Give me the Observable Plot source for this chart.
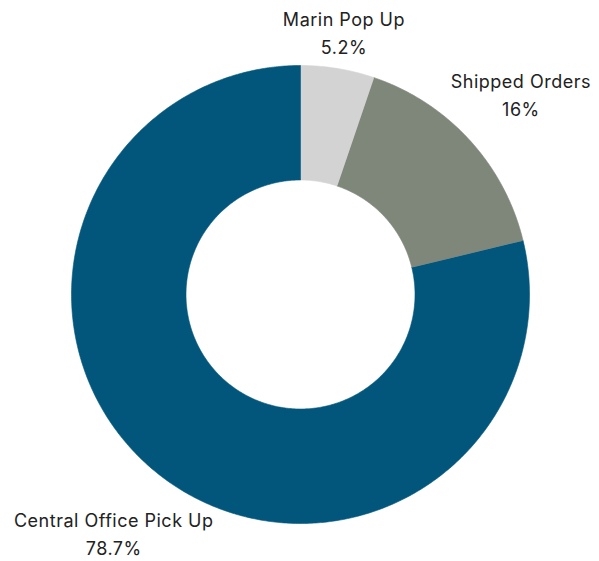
<!DOCTYPE html>
<html><head><meta charset="utf-8">
<script src="https://cdn.jsdelivr.net/npm/d3@7"></script>
<script src="https://cdn.jsdelivr.net/npm/@observablehq/plot@0.6"></script>
<style>body{margin:0;background:#fff}#chart svg{display:block}#chart text{letter-spacing:0.5px}</style>
</head><body><div id="chart"></div>
<script>
const categories = ["Marin Pop Up", "Shipped Orders", "Central Office Pick Up"];
const values = [5.2, 16, 78.7];
const valueLabels = ["5.2%", "16%", "78.7%"];
const colors = ["#d3d3d3", "#7f877a", "#02567b"];

const W = 599, H = 561, cx = 300, cy = 294, R = 229;
const inner = 0.5;
const total = d3.sum(values);
let acc = 0;
const slices = categories.map((name, i) => {
  const a0 = acc / total * 2 * Math.PI;
  acc += values[i];
  const a1 = acc / total * 2 * Math.PI;
  return {name, a0, a1, mid: (a0 + a1) / 2, label: valueLabels[i]};
});
const pts = [];
for (const s of slices) {
  const n = Math.max(8, Math.ceil((s.a1 - s.a0) / 0.01));
  for (let k = 0; k <= n; k++) { const a = s.a0 + (s.a1 - s.a0) * k / n; pts.push({name: s.name, x: Math.sin(a), y: Math.cos(a)}); }
  for (let k = n; k >= 0; k--) { const a = s.a0 + (s.a1 - s.a0) * k / n; pts.push({name: s.name, x: inner * Math.sin(a), y: inner * Math.cos(a)}); }
}
const labels = slices.map(s => {
  const r = (258 + 55 * Math.abs(Math.sin(s.mid)) + (Math.cos(s.mid) < 0 ? 10 : 0)) / R;
  return {x: r * Math.sin(s.mid), y: r * Math.cos(s.mid), text: s.name + "\n" + s.label};
});

const chart = Plot.plot({
  width: W, height: H, margin: 0,
  x: {domain: [-cx / R, (W - cx) / R], range: [0, W], axis: null},
  y: {domain: [-(H - cy) / R, cy / R], range: [H, 0], axis: null},
  color: {domain: categories, range: colors},
  marks: [
    Plot.line(pts, {x: "x", y: "y", z: "name", fill: "name", stroke: "name", strokeWidth: 0.6, curve: "linear"}),
    Plot.text(labels, {x: "x", y: "y", text: "text", fontSize: 18, lineHeight: 1.55, fill: "#222", textAnchor: "middle"})
  ],
  style: {fontFamily: "Inter, sans-serif"}
});
document.getElementById("chart").appendChild(chart);
</script></body></html>
